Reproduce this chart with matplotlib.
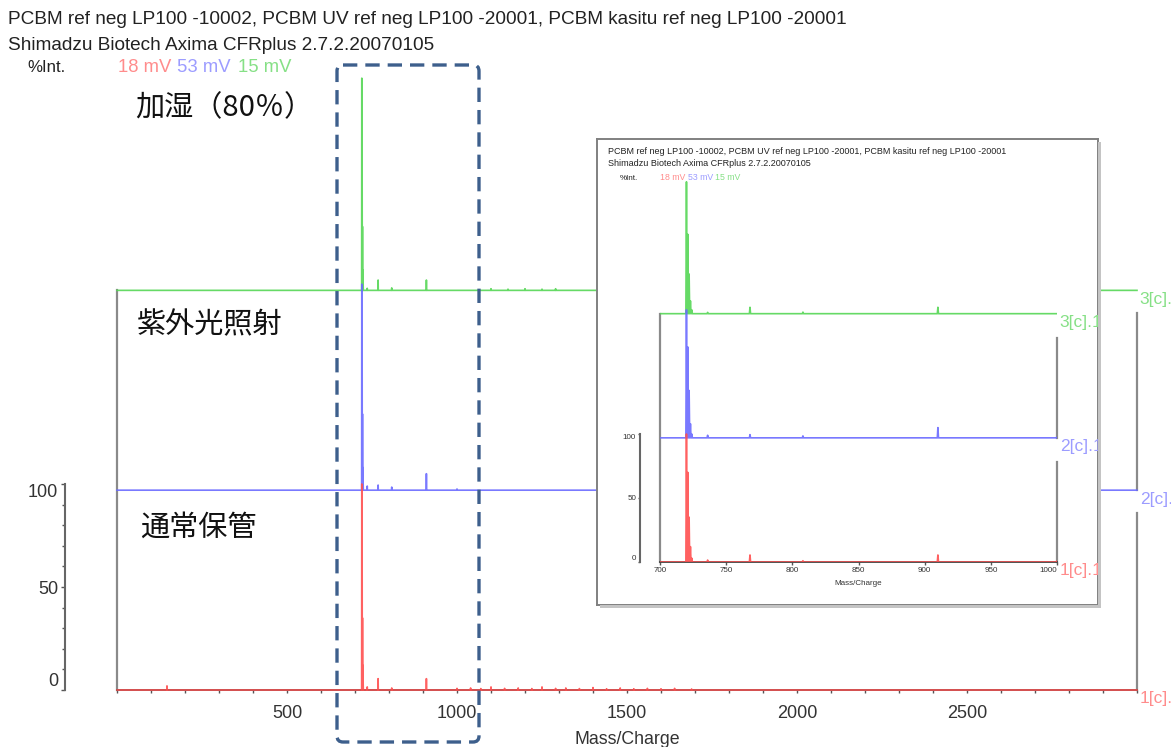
import matplotlib
matplotlib.use("Agg")
import matplotlib.pyplot as plt
import numpy as np
from matplotlib.patches import FancyBboxPatch, Rectangle
from matplotlib.ticker import FixedLocator, MultipleLocator

plt.rcParams['font.family'] = ['Liberation Sans', 'DejaVu Sans']
JP = ['Noto Sans CJK JP', 'DejaVu Sans']

W, H = 1171, 747

# isotope cluster of the main ion (m/z 720..724), % intensity
iso_mz = [720, 721, 722, 723, 724]
iso_normal = [100, 70, 35, 12, 3]
iso_uv = [100, 71, 37, 11, 3]
iso_humid = [103, 62, 31, 10, 3]

# small peaks / noise, % intensity
small_mz_normal = [147, 736, 768, 808, 910, 1000, 1040, 1070, 1100, 1140, 1180, 1220,
                   1250, 1290, 1320, 1360, 1400, 1440, 1480, 1520, 1560, 1600, 1640, 1690]
small_int_normal = [2.0, 1.5, 5.5, 1.0, 5.5, 0.8, 1.0, 0.7, 1.5, 0.8, 1.0, 0.7,
                    1.5, 0.8, 1.0, 0.7, 1.2, 0.6, 1.0, 0.6, 0.8, 0.6, 0.8, 0.5]
small_mz_uv = [736, 768, 808, 910, 1000]
small_int_uv = [2.0, 2.5, 1.5, 8.0, 0.6]
small_mz_humid = [736, 768, 808, 910, 1100, 1150, 1200, 1250, 1290]
small_int_humid = [1.0, 5.0, 1.2, 5.0, 0.8, 0.6, 0.8, 0.6, 0.8]

trace_names = ['1[c].', '2[c].', '3[c].']
jp_labels = ['通常保管', '紫外光照射', '加湿（80％）']
trace_colors = ['#ff5050', '#6a6aff', '#55d655']
label_colors = ['#ff8c8c', '#9c9cff', '#86e086']
mv_texts = ['18 mV', '53 mV', '15 mV']

title1 = 'PCBM ref neg LP100 -10002, PCBM UV ref neg LP100 -20001, PCBM kasitu ref neg LP100 -20001'
title2 = 'Shimadzu Biotech Axima CFRplus 2.7.2.20070105'

OFFSET = 97          # vertical shift between stacked traces, %
GRAY = '#8a8a8a'


def stick_trace(mz, inten, half=0.45, lo=0, hi=3000):
    order = np.argsort(mz)
    xs, ys = [lo], [0.0]
    for i in order:
        xs += [mz[i] - half, mz[i], mz[i] + half]
        ys += [0.0, inten[i], 0.0]
    xs.append(hi)
    ys.append(0.0)
    return np.array(xs), np.array(ys)


spectra = [
    stick_trace(iso_mz + small_mz_normal, iso_normal + small_int_normal),
    stick_trace(iso_mz + small_mz_uv, iso_uv + small_int_uv),
    stick_trace(iso_mz + small_mz_humid, iso_humid + small_int_humid),
]


def box(x0, y0, x1, y1):
    return [x0 / W, 1 - y1 / H, (x1 - x0) / W, (y1 - y0) / H]


def pt(px):
    return px * 72 / 100


def draw_stack(ax, xmax, label_gap, fs_label, text_ax=None, clip=False):
    xmin = ax.get_xlim()[0]
    for k, (xs, ys) in enumerate(spectra):
        ax.plot(xs, ys + k * OFFSET, color=trace_colors[k], lw=1.2,
                alpha=0.9, clip_on=clip, zorder=3 - k * 0.1 + 0.3 * (k == 0))
    ax.plot([xmin, xmin], [0, 2 * OFFSET], color=GRAY, lw=1.6, clip_on=False, zorder=2)
    ax.plot([xmax, xmax], [0, OFFSET - label_gap], color=GRAY, lw=1.6, clip_on=False, zorder=2)
    ax.plot([xmax, xmax], [OFFSET, 2 * OFFSET - label_gap], color=GRAY, lw=1.6,
            clip_on=False, zorder=2)
    tax = text_ax if text_ax is not None else ax
    for k in range(3):
        tax.annotate(trace_names[k] + ('1' if text_ax is not None else ''),
                     xy=(xmax, k * OFFSET), xycoords=ax.transData,
                     xytext=(2, -1), textcoords='offset points',
                     ha='left', va='top', fontsize=fs_label,
                     color=label_colors[k], annotation_clip=False,
                     clip_on=clip and text_ax is not None)


def style_axes(ax, fs, ymaj_len, xpad, ypad, outward, yminor):
    for s in ('top', 'right'):
        ax.spines[s].set_visible(False)
    ax.patch.set_alpha(0)
    ax.spines['left'].set_position(('outward', pt(outward)))
    ax.spines['left'].set_bounds(0, 100)
    ax.spines['left'].set_color('#666666')
    ax.spines['left'].set_linewidth(1.5)
    ax.spines['bottom'].set_color('#444444')
    ax.spines['bottom'].set_linewidth(1.3)
    ax.yaxis.set_major_locator(FixedLocator([0, 50, 100]))
    ax.yaxis.set_minor_locator(FixedLocator(yminor))
    ax.tick_params(axis='both', which='both', direction='out', colors='#555555',
                   labelcolor='#333333', labelsize=fs, width=1.0)
    ax.tick_params(axis='y', which='major', length=pt(ymaj_len), pad=pt(ypad))
    ax.tick_params(axis='y', which='minor', length=pt(ymaj_len * 0.8))
    ax.tick_params(axis='x', which='both', length=pt(3), pad=pt(xpad))
    ticks = ax.yaxis.get_major_ticks()
    ticks[0].label1.set_va('bottom')
    ticks[-1].label1.set_va('top')


fig = plt.figure(figsize=(W / 100, H / 100), dpi=100)
fig.patch.set_facecolor('white')

# main stacked spectrum, 0..3000 m/z
main = fig.add_axes(box(117, 60, 1137, 690), zorder=1)
main.set_xlim(0, 3000)
main.set_ylim(0, 630 / 2.06)
style_axes(main, 13, 4, 12, 3, 52, list(range(10, 100, 10)))
main.spines['bottom'].set_bounds(0, 3000)
main.xaxis.set_major_locator(FixedLocator([500, 1000, 1500, 2000, 2500]))
main.xaxis.set_minor_locator(MultipleLocator(100))
main.set_xlabel('Mass/Charge', fontsize=12.8, color='#333333', labelpad=pt(9))
draw_stack(main, 3000, 11, 12.5)

# zoomed inset, 700..1000 m/z
frame = fig.add_axes(box(597, 139, 1098, 605), zorder=3)
frame.set_xticks([])
frame.set_yticks([])
for s in frame.spines.values():
    s.set_color('#808080')
    s.set_linewidth(1.4)

inner = fig.add_axes(box(660, 150, 1057, 562), zorder=4)
inner.set_xlim(700, 1000)
inner.set_ylim(0, 412 / 1.28)
style_axes(inner, 5.8, 2, 2, 2, 20, [])
inner.xaxis.set_major_locator(FixedLocator([700, 750, 800, 850, 900, 950, 1000]))
inner.xaxis.get_major_ticks()[-1].label1.set_ha('right')
inner.set_xlabel('Mass/Charge', fontsize=5.8, color='#333333', labelpad=pt(6))
draw_stack(inner, 1000, 19, 12.5, text_ax=frame, clip=True)

# header texts, labels and the highlight box on a pixel overlay
ov = fig.add_axes([0, 0, 1, 1], zorder=6)
ov.set_xlim(0, W)
ov.set_ylim(H, 0)
ov.axis('off')

for fs, x0, ys, xs_mv in [(13.7, 8, (20, 45, 68), (27, 118, 177, 238)),
                          (6.5, 608, (151, 164, 178), (620, 660, 688, 715))]:
    ov.text(x0, ys[0], title1, fontsize=fs, color='#222222', va='center')
    ov.text(x0, ys[1], title2, fontsize=fs, color='#222222', va='center')
    ov.text(xs_mv[0], ys[2], '%Int.', fontsize=fs * 0.88, color='#222222', va='center')
    for k in range(3):
        ov.text(xs_mv[k + 1], ys[2], mv_texts[k], fontsize=fs * 0.97, color=label_colors[k],
                va='center')

for k, (x, y) in enumerate([(140, 528), (137, 325), (135, 108)]):
    ov.text(x, y, jp_labels[k], fontsize=21, family=JP, color='#111111', va='center')

# inset drop shadow
ov.add_patch(Rectangle((1098, 142), 3, 466, color='#c4c4c4', lw=0))
ov.add_patch(Rectangle((600, 605), 501, 3, color='#c4c4c4', lw=0))

ov.add_patch(FancyBboxPatch((337, 65), 142, 677,
                            boxstyle='round,pad=0,rounding_size=6',
                            fill=False, edgecolor='#3d5f8c', lw=2.4,
                            linestyle=(0, (4.3, 2.4))))

fig.savefig('out.png', dpi=100)
